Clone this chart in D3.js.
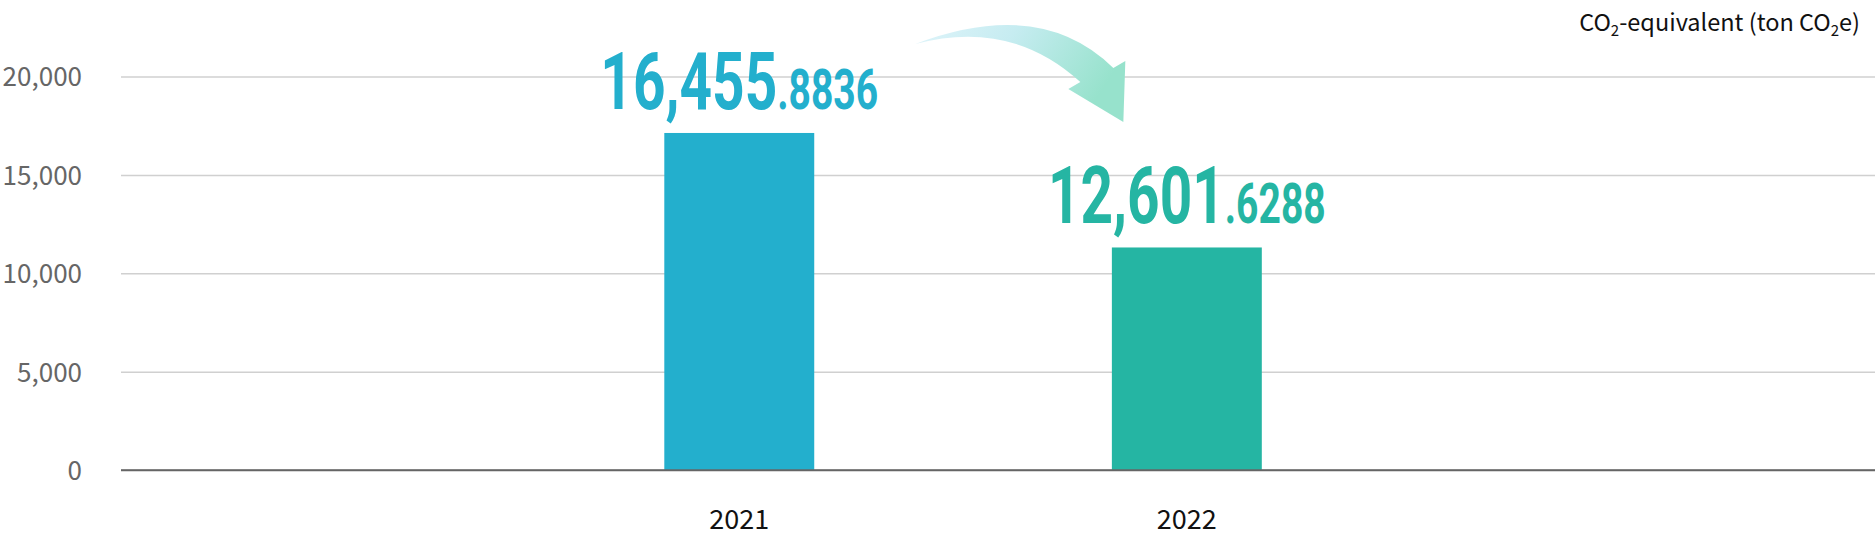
<!DOCTYPE html>
<html>
<head>
<meta charset="utf-8">
<script src="https://cdn.jsdelivr.net/npm/d3@7"></script>
<style>
  html, body { margin: 0; padding: 0; background: #fff; }
  svg { display: block; }
</style>
</head>
<body>
<div id="chart"></div>
<script>
// Data
const years = ["2021", "2022"];
const labelValues = [16455.8836, 12601.6288];   // printed totals
const barHeights = [17130, 11310];               // bar heights as drawn in the picture
const barColors = ["#23afcd", "#25b5a3"];
const yTicks = [0, 5000, 10000, 15000, 20000];

const width = 1875;
const height = 540;
const margin = { top: 76.5, right: 0, bottom: 70, left: 121 };

const svg = d3.select("#chart")
    .append("svg")
    .attr("width", width)
    .attr("height", height);

// Scales
const y = d3.scaleLinear()
    .domain([0, 20000])
    .range([height - margin.bottom, margin.top]);

const x = d3.scaleBand()
    .domain(years)
    .range([664.3, 1261.8])
    .paddingInner(0.665)
    .paddingOuter(0);

// Gridlines + tick labels
const yAxis = svg.append("g")
    .attr("transform", `translate(${margin.left},0)`)
    .call(d3.axisLeft(y)
        .tickValues(yTicks)
        .tickFormat(d3.format(","))
        .tickSize(-(width - margin.left - margin.right))
        .tickPadding(39));

yAxis.select(".domain").remove();
yAxis.selectAll(".tick line")
    .attr("stroke", d => d === 0 ? "#666" : "#d0d0d0")
    .attr("stroke-width", 1.5);
yAxis.selectAll(".tick text")
    .attr("fill", "#666")
    .attr("font-family", "'Noto Sans CJK KR', 'Noto Sans', sans-serif")
    .attr("font-size", 26)
    .attr("dy", "0.36em");

// Bars
svg.append("g")
    .selectAll("rect")
    .data(years)
    .enter().append("rect")
    .attr("x", d => x(d))
    .attr("width", x.bandwidth())
    .attr("y", (d, i) => y(barHeights[i]))
    .attr("height", (d, i) => y(0) - y(barHeights[i]))
    .attr("fill", (d, i) => barColors[i]);

// Redraw zero line on top of bars
svg.append("line")
    .attr("x1", margin.left)
    .attr("x2", width - margin.right)
    .attr("y1", y(0))
    .attr("y2", y(0))
    .attr("stroke", "#666")
    .attr("stroke-width", 1.5);

// Year labels
svg.append("g")
    .selectAll("text")
    .data(years)
    .enter().append("text")
    .attr("x", d => x(d) + x.bandwidth() / 2)
    .attr("y", 529)
    .attr("text-anchor", "middle")
    .attr("font-family", "'Noto Sans CJK KR', 'Noto Sans', sans-serif")
    .attr("font-size", 27)
    .attr("fill", "#111")
    .text(d => d);

// Value labels: big condensed integer part + smaller decimals
const squeeze = 0.71;
const labels = svg.append("g")
    .selectAll("text")
    .data(years)
    .enter().append("text")
    .attr("transform", (d, i) => {
        const cx = x(d) + x.bandwidth() / 2;
        const base = y(barHeights[i]) - 24;
        return `translate(${cx},${base}) scale(${squeeze},1)`;
    })
    .attr("text-anchor", "middle")
    .attr("font-family", "Roboto, sans-serif")
    .attr("font-weight", 700)
    .attr("fill", (d, i) => barColors[i]);

labels.append("tspan")
    .attr("font-size", 80)
    .text((d, i) => d3.format(",")(Math.floor(labelValues[i])));
labels.append("tspan")
    .attr("font-size", 55)
    .text((d, i) => "." + labelValues[i].toFixed(4).split(".")[1]);

// Decorative curved arrow between the two years
const defs = svg.append("defs");
const grad = defs.append("linearGradient")
    .attr("id", "arrowGrad")
    .attr("x1", "0%").attr("x2", "100%")
    .attr("y1", "0%").attr("y2", "30%");
grad.append("stop").attr("offset", "0%").attr("stop-color", "#dff4fa");
grad.append("stop").attr("offset", "45%").attr("stop-color", "#c6ecf1");
grad.append("stop").attr("offset", "100%").attr("stop-color", "#97e2cc");

const ax = x("2022") + x.bandwidth() / 2;
const ay = y(20000);
svg.append("path")
    .attr("transform", `translate(${ax},${ay})`)
    .attr("d", "M-271.5,-32.5 Q-146,-80 -73.5,-8.5 L-61.5,-15.5 L-63.5,45.5 L-118.5,12.5 L-106.5,5.5 Q-176,-58 -271.5,-32.5 Z")
    .attr("fill", "url(#arrowGrad)");

// Unit label
const unit = svg.append("text")
    .attr("x", 1860)
    .attr("y", 31)
    .attr("text-anchor", "end")
    .attr("font-family", "'Noto Sans CJK KR', 'Noto Sans', sans-serif")
    .attr("font-size", 23.5)
    .attr("fill", "#111");
unit.append("tspan").text("CO");
unit.append("tspan").attr("font-size", 15).attr("dy", 5).text("2");
unit.append("tspan").attr("dy", -5).text("-equivalent (ton CO");
unit.append("tspan").attr("font-size", 15).attr("dy", 5).text("2");
unit.append("tspan").attr("dy", -5).text("e)");
</script>
</body>
</html>
